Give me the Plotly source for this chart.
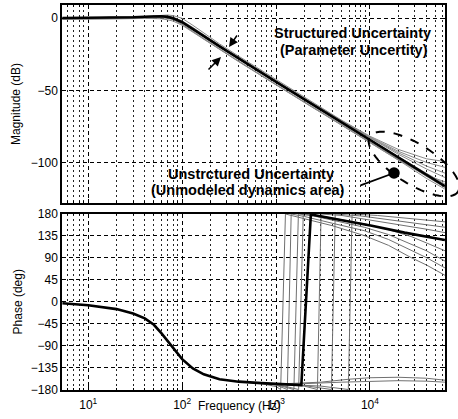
import numpy as np
import plotly.graph_objects as go

# ---------------- data ----------------
freq_mag = [5.3, 10, 20, 30, 40, 50, 60, 70, 80, 100, 130, 170, 250, 400, 700,
            1000, 2000, 5000, 10000, 20000, 40000, 63000]
mag_nominal = [0.0, 0.1, 0.3, 0.6, 0.9, 1.2, 1.2, 0.8, -0.1, -2.9, -7.5, -12.5, -19.6, -28.0, -37.8,
               -44.1, -56.1, -72.0, -84.0, -96.1, -108.1, -116.0]
mag_c1 = [0.0, 0.1, 0.3, 0.7, 1.1, 1.6, 2.0, 2.1, 1.7, -0.2, -5.0, -10.3, -17.8, -26.3, -36.2,
          -42.5, -54.5, -70.5, -81.5, -90.6, -97.1, -99.0]
mag_c2 = [0.0, 0.1, 0.3, 0.5, 0.8, 1.1, 1.3, 1.1, 0.5, -2.0, -6.5, -11.6, -18.8, -27.2, -37.0,
          -43.3, -55.3, -70.8, -82.0, -91.9, -99.6, -103.0]
mag_c3 = [0.0, 0.1, 0.2, 0.5, 0.7, 0.9, 0.9, 0.6, 0.0, -2.5, -7.0, -12.0, -19.2, -27.6, -37.3,
          -43.6, -55.6, -71.0, -82.4, -92.9, -102.1, -107.0]
mag_c4 = [0.0, 0.1, 0.3, 0.6, 1.0, 1.4, 1.6, 1.3, 0.4, -2.7, -7.5, -12.6, -19.7, -28.1, -37.9,
          -44.2, -56.2, -71.2, -82.8, -93.9, -104.1, -110.0]
mag_c5 = [-0.8, -0.8, -0.6, -0.4, -0.2, -0.2, -0.5, -1.2, -2.1, -5.0, -9.8, -14.8, -21.8, -30.1, -39.9,
          -46.2, -58.2, -74.0, -86.0, -97.9, -108.4, -113.0]
mag_c6 = [-0.5, -0.5, -0.3, -0.1, 0.1, 0.2, 0.1, -0.3, -0.9, -3.3, -7.7, -12.7, -19.8, -28.2, -38.0,
          -44.3, -56.3, -72.1, -83.9, -95.6, -107.1, -114.5]
mag_c7 = [0.0, 0.1, 0.3, 0.7, 1.0, 1.2, 0.9, 0.2, -0.9, -4.3, -9.5, -14.4, -21.4, -29.8, -39.6,
          -45.9, -57.9, -73.7, -85.7, -97.8, -109.6, -117.0]
mag_c8 = [-1.0, -0.9, -0.7, -0.3, 0.1, 0.5, 0.7, 0.1, -0.9, -4.5, -9.4, -14.4, -21.5, -29.9, -39.7,
          -46.0, -58.0, -73.8, -85.8, -97.9, -110.6, -118.0]

freq_phase = [5.3, 10, 20, 30, 40, 50, 60, 70, 80, 100, 130, 170, 250, 400, 700, 1000, 1500,
              1860, 2350, 4570, 10470, 23400, 63000]
phase_nominal = [-3, -7, -15, -24, -34, -47, -64, -80, -94, -117, -136, -148, -158, -163, -166, -168, -169,
                 -170, 178, 168, 155, 141, 126]

w1_freq = [400, 700, 1000, 1120, 1260, 2000, 4000, 8700, 15800, 27500, 40000, 63000]
w1_phase = [-163, -167, -173, -179, 179, 170, 155, 135, 115, 90, 75, 54]
w2_freq = [400, 700, 1000, 1320, 1450, 2000, 4000, 8700, 15800, 27500, 40000, 63000]
w2_phase = [-163, -166, -170, -179, 179, 174, 160, 145, 127, 105, 90, 69]
w3_freq = [400, 1000, 1550, 1730, 2500, 4000, 8700, 15800, 27500, 40000, 63000]
w3_phase = [-163, -169, -179, 179, 175, 166, 152, 137, 118, 104, 83]
w4_freq = [400, 1000, 1740, 1950, 3000, 5000, 8700, 15800, 27500, 40000, 63000]
w4_phase = [-163, -168, -179, 179, 175, 168, 159, 147, 133, 120, 104]
r1_freq = [1000, 2000, 2760, 3020, 5000, 10000, 20000, 40000, 63000]
r1_phase = [-168, -172, -179, 179, 176, 167, 157, 148, 141]
r2_freq = [1000, 2000, 3890, 4270, 8000, 16000, 32000, 63000]
r2_phase = [-168, -171, -179, 179, 175, 167, 159, 152]
r3_freq = [1000, 3000, 5890, 6460, 12000, 25000, 63000]
r3_phase = [-168, -172, -179, 179, 176, 170, 163]
b1_freq = [1000, 2000, 5000, 10000, 20000, 40000, 63000]
b1_phase = [-168, -167, -164, -162, -161, -162, -164]
b2_freq = [1000, 3000, 6000, 10000, 20000, 40000, 63000]
b2_phase = [-168, -164, -158, -155, -154, -156, -160]

x_tick_vals = [10, 100, 1000, 10000]
x_tick_text = ["10<sup>1</sup>", "10<sup>2</sup>", "10<sup>3</sup>", "10<sup>4</sup>"]
mag_ticks = [-100, -50, 0]
phase_ticks = [-180, -135, -90, -45, 0, 45, 90, 135, 180]

# ---------------- figure ----------------
W, H = 458, 419
def px(x):
    return x / W
def py(y):
    return 1 - y / H

fig = go.Figure()
GRAY = "#8a8a8a"
PGRAY = "#707070"

for m in [mag_c1, mag_c2, mag_c3, mag_c4, mag_c5, mag_c6, mag_c7, mag_c8]:
    fig.add_trace(go.Scatter(x=freq_mag, y=m, mode="lines", line=dict(color=GRAY, width=1),
                             xaxis="x", yaxis="y", showlegend=False, hoverinfo="skip"))
fig.add_trace(go.Scatter(x=freq_mag, y=mag_nominal, mode="lines", line=dict(color="black", width=2.6),
                         xaxis="x", yaxis="y", showlegend=False))

for fq, ph in [(w1_freq, w1_phase), (w2_freq, w2_phase), (w3_freq, w3_phase), (w4_freq, w4_phase),
               (r1_freq, r1_phase), (r2_freq, r2_phase), (r3_freq, r3_phase),
               (b1_freq, b1_phase), (b2_freq, b2_phase)]:
    fig.add_trace(go.Scatter(x=fq, y=ph, mode="lines", line=dict(color=PGRAY, width=1),
                             xaxis="x2", yaxis="y2", showlegend=False, hoverinfo="skip"))
fig.add_trace(go.Scatter(x=freq_phase, y=phase_nominal, mode="lines", line=dict(color="black", width=2.6),
                         xaxis="x2", yaxis="y2", showlegend=False))

minor_vals = [m * 10 ** e for e in range(0, 5) for m in range(2, 10)]
FONT = "Liberation Sans, Arial, sans-serif"
xdom = [px(62), px(445)]
common_x = dict(type="log", range=[0.72, 4.8], domain=xdom, showline=True, linecolor="black",
                linewidth=1.5, mirror="ticks", ticks="inside", ticklen=4, tickcolor="black",
                tickvals=x_tick_vals, showgrid=True, gridcolor="black", gridwidth=1,
                griddash="4px,3px", zeroline=False, automargin=False,
                minor=dict(tickvals=minor_vals, ticks="inside", ticklen=2, tickcolor="black",
                           showgrid=True, gridcolor="#222", gridwidth=1, griddash="2px,3px"))
common_y = dict(showline=True, linecolor="black", linewidth=1.5, mirror="ticks", ticks="inside",
                ticklen=4, tickcolor="black", showgrid=True, gridcolor="black", gridwidth=1,
                griddash="4px,3px", zeroline=False, automargin=False,
                tickfont=dict(size=12, color="black", family=FONT))

fig.update_layout(
    width=W, height=H, margin=dict(l=0, r=0, t=0, b=0, autoexpand=False),
    paper_bgcolor="white", plot_bgcolor="white",
    font=dict(family=FONT, size=12, color="black"),
    xaxis=dict(common_x, anchor="y", showticklabels=False),
    yaxis=dict(common_y, domain=[py(203), py(5)], range=[-127.6, 9], tickvals=mag_ticks,
               anchor="x", title=dict(text="Magnitude (dB)", font=dict(size=12), standoff=8)),
    xaxis2=dict(common_x, anchor="y2", ticktext=x_tick_text, showticklabels=True,
                ticklabelstandoff=3, tickfont=dict(size=12, color="black", family=FONT)),
    yaxis2=dict(common_y, domain=[py(390), py(213.5)], range=[-180, 180], tickvals=phase_ticks,
                anchor="x2", title=dict(text="Phase (deg)", font=dict(size=12), standoff=6)),
)

# Frequency axis title (overlaps tick row, as in the reference)
fig.add_annotation(x=px(239), y=py(406), xref="paper", yref="paper", text="Frequency (Hz)",
                   showarrow=False, font=dict(size=12, family=FONT), xanchor="center", yanchor="middle")

# text annotations
BF = dict(size=14.5, family=FONT, color="black")
def label(x, y, txt):
    fig.add_annotation(x=px(x), y=py(y), xref="paper", yref="paper", text=txt, showarrow=False,
                       font=BF, xanchor="center", yanchor="middle")

label(352, 33, "<b>Structured Uncertainty</b>")
label(354, 50, "<b>(Parameter Uncertity)</b>")
label(251, 174, "<b>Unstrctured Uncertainty</b>")
label(248, 190, "<b>(Unmodeled dynamics area)</b>")

# arrows
fig.add_annotation(x=px(229), y=py(47), xref="paper", yref="paper", ax=9, ay=-13, text="",
                   showarrow=True, arrowhead=2, arrowsize=1.2, arrowwidth=1.5, arrowcolor="black")
fig.add_annotation(x=px(221), y=py(57), xref="paper", yref="paper", ax=-14, ay=14, text="",
                   showarrow=True, arrowhead=2, arrowsize=1.2, arrowwidth=1.5, arrowcolor="black")
fig.add_annotation(x=px(394), y=py(173), xref="paper", yref="paper", ax=-35, ay=13, text="",
                   showarrow=True, arrowhead=6, arrowsize=1.6, arrowwidth=1.8, arrowcolor="black")

# dashed ellipse around the unmodeled-dynamics region
cx, cy, a, b, ang = 414, 164, 52, 20, np.deg2rad(32)
t = np.linspace(0, 2 * np.pi, 60)
ex = cx + a * np.cos(t) * np.cos(ang) - b * np.sin(t) * np.sin(ang)
ey = cy + a * np.cos(t) * np.sin(ang) + b * np.sin(t) * np.cos(ang)
path = "M " + " L ".join(f"{px(xx):.5f},{py(yy):.5f}" for xx, yy in zip(ex, ey)) + " Z"
fig.add_shape(type="path", path=path, xref="paper", yref="paper",
              line=dict(color="black", width=2, dash="dash"), layer="above")

fig.write_html("out.html", config={"displayModeBar": False},
               post_script="document.body.style.margin='0';document.body.style.overflow='hidden';")
